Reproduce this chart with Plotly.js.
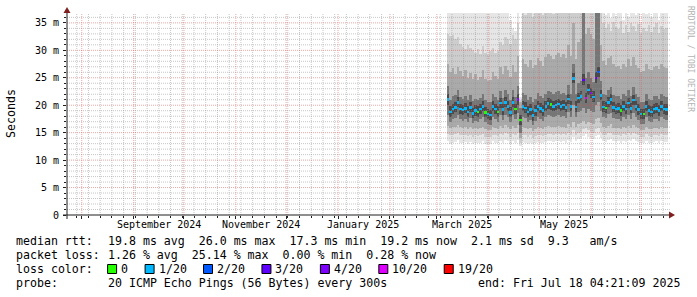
<!DOCTYPE html>
<html><head><meta charset="utf-8">
<script src="https://cdn.plot.ly/plotly-3.0.1.min.js"></script>
<style>html,body{margin:0;padding:0;background:#fff;}#chart{width:697px;height:297px;}</style>
</head><body><div id="chart"></div>
<script>
// ---------- data ----------
const rangeStart = '2024-07-23 04:21:09';
const rangeEnd = '2025-07-18 04:21:09';
const firstSample = '2025-03-07 12:00:00';
const sampleHours = 36;

const median = [
 21.0,18.8,19.3,19.6,20.5,19.3,19.1,19.4,18.8,19.6,
 18.5,19.0,18.8,19.3,19.8,18.7,18.4,18.2,19.8,19.3,
 18.8,20.4,19.2,20.5,19.8,18.7,20.5,19.3,21.0,17.3,
 19.8,19.5,18.8,19.2,18.1,19.0,19.8,19.4,19.0,19.8,
 20.3,20.1,19.8,20.0,20.2,19.8,20.0,19.6,21.1,19.8,
 24.9,19.7,21.3,21.6,24.6,21.3,22.8,22.2,21.5,25.0,
 26.0,21.8,19.7,19.5,20.5,21.0,19.6,19.3,19.4,19.0,
 19.8,19.3,20.4,19.4,20.9,19.8,19.2,18.4,18.4,19.8,
 19.0,18.8,19.3,19.4,19.0,19.8,19.3,19.2];

const lossTwentieths = [
 1,1,1,1,1,1,1,1,1,1,
 1,1,0,1,1,0,1,1,1,1,
 0,1,1,1,1,1,1,0,4,0,
 1,1,1,1,1,1,1,1,1,1,
 1,0,1,1,1,1,1,1,1,1,
 1,1,1,1,3,10,1,4,1,3,
 2,1,1,0,1,1,1,1,1,0,
 1,1,1,1,1,1,1,1,0,1,
 1,1,1,1,1,1,1,1];

const smokeMax = [
 37,37,37,37,37,37,37,37,37,37,
 37,37,37,37,37,37,37,37,37,37,
 37,37,37,37,37,35.5,34.0,33.5,37,21.5,
 37,37,37,37,37,37,37,37,37,37,
 37,37,37,37,37,37,37,37,37,37,
 37,35.0,37,37,37,37,37,37,37,37,
 37,37,37,36.5,37,35.8,37,36.2,37,37,
 35.5,37,36.0,37,37,36.4,37,35.2,37,36.6,
 37,36.0,37,37,35.6,37,36.8,37];

const smokeHi2 = [
 33.0,32.6,32.8,32.0,32.4,31.2,30.6,30.2,31.0,30.4,
 30.0,29.6,30.2,29.4,30.8,29.5,29.2,29.8,30.4,29.6,
 29.8,31.6,31.0,32.4,32.0,31.2,32.8,32.0,35.0,21.0,
 37,36.5,37,37,36.0,37,37,37,36.4,37,
 37,37,36.6,37,37,37,37,37,37,37,
 37,37,37,37,37,37,37,37,37,37,
 37,37,35.0,34.0,34.8,33.6,35.2,34.2,33.8,35.4,
 33.2,34.6,33.4,35.0,34.4,33.6,34.8,33.2,34.0,33.6,
 34.6,33.4,34.2,35.0,33.2,34.4,33.8,34.0];

const smokeHi1 = [
 27.5,26.0,26.8,25.6,27.0,26.2,25.4,26.4,25.0,25.8,
 24.8,25.6,24.6,25.2,26.4,24.8,24.4,24.6,26.0,25.4,
 24.8,27.0,25.6,27.2,26.4,25.2,27.4,26.0,29.0,20.5,
 28.5,27.6,27.0,28.2,26.8,27.4,28.6,28.0,27.2,28.8,
 29.4,29.0,28.4,29.2,29.6,28.8,29.4,28.6,31.0,29.0,
 35.0,28.4,31.5,32.0,37,33.0,34.0,33.0,32.0,37,
 37,31.0,28.0,27.4,28.6,29.0,27.6,27.0,27.2,26.6,
 27.6,27.0,28.4,27.2,28.8,27.4,26.8,26.0,26.2,27.6,
 26.6,26.4,27.0,27.2,26.6,27.6,27.0,26.8];

const coreHi = [
 23.5,21.0,21.6,21.8,22.8,21.5,21.2,21.6,21.0,21.8,
 20.8,21.2,21.0,21.4,22.0,20.9,20.6,20.5,22.0,21.5,
 21.0,22.6,21.4,22.8,22.0,20.9,22.8,21.5,23.5,19.5,
 22.2,21.8,21.0,21.5,20.5,21.2,22.2,21.6,21.3,22.1,
 22.6,22.4,22.0,22.4,22.6,22.1,22.3,21.9,23.6,22.1,
 27.5,22.0,24.0,24.5,37,25.0,26.0,25.0,24.2,37,
 37,24.5,22.0,21.8,22.8,23.4,21.9,21.6,21.7,21.2,
 22.1,21.6,22.8,21.7,23.3,22.1,21.5,20.6,20.6,22.1,
 21.2,21.0,21.6,21.7,21.2,22.1,21.6,21.5];

const coreLo = [
 18.2,17.0,17.4,17.6,18.2,17.4,17.2,17.5,17.0,17.6,
 16.8,17.2,17.0,17.4,17.8,16.9,16.6,16.4,17.8,17.4,
 17.0,18.2,17.3,18.3,17.8,16.9,18.2,17.4,18.5,15.0,
 17.8,17.6,17.0,17.3,16.4,17.2,17.8,17.5,17.2,17.8,
 18.2,18.0,17.8,18.0,18.2,17.8,18.0,17.7,18.8,17.8,
 20.0,17.8,18.8,19.0,19.5,18.6,19.4,19.0,18.8,20.0,
 20.5,19.0,17.8,17.6,18.4,18.6,17.7,17.4,17.5,17.2,
 17.8,17.4,18.3,17.5,18.6,17.8,17.3,16.6,16.6,17.8,
 17.2,17.0,17.4,17.5,17.2,17.8,17.4,17.3];

const smokeLo1 = [
 16.2,15.8,16.0,16.1,16.4,16.0,15.9,16.0,15.7,16.0,
 15.6,15.8,15.7,15.9,16.1,15.6,15.5,15.4,16.0,15.8,
 15.7,16.3,15.9,16.4,16.1,15.6,16.3,15.9,16.4,14.0,
 16.0,15.9,15.6,15.8,15.3,15.7,16.0,15.9,15.7,16.0,
 16.2,16.1,16.0,16.1,16.2,16.0,16.1,15.9,16.5,16.0,
 17.0,16.0,16.6,16.8,17.2,16.6,17.0,16.8,16.6,17.4,
 17.6,16.8,16.0,15.9,16.3,16.5,15.9,15.8,15.9,15.7,
 16.0,15.8,16.3,15.9,16.4,16.0,15.8,15.4,15.4,16.0,
 15.7,15.6,15.8,15.9,15.7,16.0,15.8,15.8];

const smokeLo2 = [
 14.8,14.5,14.6,14.7,14.9,14.6,14.5,14.6,14.4,14.6,
 14.3,14.5,14.4,14.5,14.7,14.3,14.2,14.2,14.6,14.5,
 14.4,14.8,14.5,14.9,14.7,14.3,14.8,14.5,14.9,13.2,
 14.6,14.5,14.3,14.5,14.1,14.4,14.6,14.5,14.4,14.6,
 14.8,14.7,14.6,14.7,14.8,14.6,14.7,14.5,15.0,14.6,
 15.4,14.6,15.0,15.2,15.6,15.8,15.4,15.2,15.0,15.6,
 15.8,15.2,14.6,14.5,14.9,15.0,14.6,14.5,14.6,14.4,
 14.7,14.5,14.9,14.6,15.0,14.7,14.5,14.2,14.2,14.7,
 14.4,14.3,14.5,14.6,14.4,14.7,14.5,14.5];

const smokeMin = [
 13.4,13.0,13.2,13.3,13.6,13.2,13.1,13.3,13.0,13.3,
 13.0,13.2,13.1,13.2,13.4,13.0,12.9,13.0,13.4,13.2,
 13.1,13.5,13.2,13.6,13.4,13.0,13.5,13.2,13.6,12.6,
 13.3,13.2,13.0,13.2,12.9,13.1,13.3,13.2,13.1,13.3,
 13.5,13.4,13.3,13.4,13.5,13.3,13.4,13.2,13.6,13.3,
 14.2,13.4,13.8,14.0,14.4,14.8,14.2,14.0,13.8,14.4,
 14.6,14.0,13.4,13.3,13.6,13.8,13.4,13.3,13.4,13.2,
 13.5,13.3,13.6,13.4,13.8,13.5,13.3,13.1,13.1,13.5,
 13.2,13.1,13.3,13.4,13.2,13.5,13.3,13.3];

const monthLabelDates = ['2024-09-16','2024-11-16','2025-01-16','2025-03-16','2025-05-16'];
const monthLabels = ['September 2024','November 2024','January 2025','March 2025','May 2025'];
const yTickVals = [0,5,10,15,20,25,30,35];
const yTickText = ['0','5 m','10 m','15 m','20 m','25 m','30 m','35 m'];
const lossSteps = [0,1,2,3,4,10,19];
const lossLabels = ['0','1/20','2/20','3/20','4/20','10/20','19/20'];
const lossColors = ['#26ff00','#00b8ff','#0059ff','#5e00ff','#7e00ff','#dd00ff','#ff0000'];
const rttStats = ['19.8','26.0','17.3','19.2','2.1','9.3'];
const lossStats = ['1.26','25.14','0.00','0.28'];
const probeText = '20 ICMP Echo Pings (56 Bytes) every 300s';
const endText = 'end: Fri Jul 18 04:21:09 2025';

// ---------- layout constants (pixels) ----------
const W = 697, H = 297, PL = 67, PR = 670, PT = 13, PB = 215;
const FONT = 'DejaVu Sans Mono, monospace';
const LEG = 11.6, CW = LEG * 0.602;
const px = v => (v - PL) / (PR - PL);
const py = v => (PB - v) / (PB - PT);
const nb = s => s.replace(/ /g, '\u00a0');
const fmt = d => d.toISOString().slice(0, 19).replace('T', ' ');
const toDate = s => new Date(s.replace(' ', 'T') + 'Z');

const stepMs = sampleHours * 3600 * 1000;
const t0 = toDate(firstSample).getTime();
const times = median.map((_, i) => fmt(new Date(t0 + i * stepMs)));

// ---------- traces ----------
const bands = [
  {lo: smokeMin, hi: smokeMax, color: '#e6e6e6'},
  {lo: smokeLo2, hi: smokeHi2, color: '#cdcdcd'},
  {lo: smokeLo1, hi: smokeHi1, color: '#aaaaaa'},
  {lo: coreLo, hi: coreHi, color: '#767676'}
];
const traces = bands.map(b => ({
  type: 'bar', x: times, base: b.lo, y: b.hi.map((h, i) => h - b.lo[i]),
  width: stepMs, marker: {color: b.color, line: {width: 0}}, hoverinfo: 'skip'
}));
// dense smoke right around the median
traces.push({
  type: 'bar', x: times, base: median.map(v => v - 0.9), y: median.map(() => 1.9),
  width: stepMs, marker: {color: '#4a4a4a', line: {width: 0}}, hoverinfo: 'skip'
});
traces.push({
  type: 'bar', x: times, base: median.map(v => v - 0.22), y: median.map(() => 0.45),
  width: stepMs * 0.98,
  marker: {color: lossTwentieths.map(l => lossColors[lossSteps.indexOf(l)]), line: {width: 0}},
  hoverinfo: 'skip'
});

// ---------- grid (drawn above data, like rrdtool) ----------
const minorCol = 'rgba(143,143,143,0.5)', majorCol = 'rgba(222,79,79,0.5)';
const shapes = [];
for (let v = 1; v <= 36; v++) if (v % 5) shapes.push({type:'line', xref:'paper', yref:'y', x0:0, x1:1, y0:v, y1:v, layer:'above', line:{color:minorCol, width:1, dash:'1px,1px'}});
const endMs = toDate(rangeEnd).getTime();
for (let t = toDate('2024-07-29 00:00:00').getTime(); t < endMs; t += 7 * 86400000)
  shapes.push({type:'line', xref:'x', yref:'paper', x0:fmt(new Date(t)), x1:fmt(new Date(t)), y0:0, y1:1, layer:'above', line:{color:minorCol, width:1, dash:'1px,1px'}});
for (let v = 5; v <= 35; v += 5) shapes.push({type:'line', xref:'paper', yref:'y', x0:0, x1:1, y0:v, y1:v, layer:'above', line:{color:majorCol, width:1, dash:'1px,1px'}});
for (let m = 0; m < 12; m++) {
  const d = new Date(Date.UTC(2024, 7 + m, 1));
  shapes.push({type:'line', xref:'x', yref:'paper', x0:fmt(d), x1:fmt(d), y0:0, y1:1, layer:'above', line:{color:majorCol, width:1, dash:'1px,1px'}});
}
// axis lines and arrows
shapes.push({type:'line', xref:'paper', yref:'paper', x0:px(63), x1:px(670), y0:0, y1:0, layer:'above', line:{color:'#1f1f1f', width:1}});
shapes.push({type:'line', xref:'paper', yref:'paper', x0:0, x1:0, y0:py(219), y1:py(12), layer:'above', line:{color:'#1f1f1f', width:1}});
shapes.push({type:'path', xref:'paper', yref:'paper', layer:'above', fillcolor:'#801f1f', line:{width:0},
  path:`M ${px(669)} ${py(211.5)} L ${px(675)} ${py(215)} L ${px(669)} ${py(218.5)} Z`});
shapes.push({type:'path', xref:'paper', yref:'paper', layer:'above', fillcolor:'#801f1f', line:{width:0},
  path:`M ${px(63.5)} ${py(13)} L ${px(67)} ${py(7)} L ${px(70.5)} ${py(13)} Z`});

// ---------- annotations ----------
const ann = [];
const txt = (x, y, text, opts = {}) => ann.push(Object.assign({
  xref:'paper', yref:'paper', x:px(x), y:py(y), text:nb(text), showarrow:false,
  xanchor:'left', yanchor:'middle', borderpad:0, borderwidth:0,
  font:{family:FONT, size:LEG, color:'#000'}
}, opts));
monthLabelDates.forEach((d, i) => ann.push({xref:'x', yref:'paper', x:d, y:py(224.5), text:monthLabels[i],
  showarrow:false, xanchor:'center', yanchor:'middle', font:{family:FONT, size:10, color:'#000'}}));
txt(11, 114, 'Seconds', {xanchor:'center', textangle:-90});
txt(690, 59, 'RRDTOOL / TOBI OETIKER', {xanchor:'center', textangle:90, font:{family:FONT, size:8, color:'#b3b3b3'}});

const colX = 107.6;
const rows = [241, 255, 269, 283];
txt(16, rows[0], 'median rtt:');
txt(colX, rows[0], `${rttStats[0]} ms avg  ${rttStats[1]} ms max  ${rttStats[2]} ms min  ${rttStats[3]} ms now  ${rttStats[4]} ms sd  ${rttStats[5]}   am/s`);
txt(16, rows[1], 'packet loss:');
txt(colX, rows[1], `${lossStats[0]} % avg  ${lossStats[1]} % max  ${lossStats[2]} % min  ${lossStats[3]} % now`);
txt(16, rows[2], 'loss color:');
let bx = colX;
lossLabels.forEach((lab, i) => {
  shapes.push({type:'rect', xref:'paper', yref:'paper', x0:px(bx), x1:px(bx + 9), y0:py(rows[2] + 4.5), y1:py(rows[2] - 4.5),
    fillcolor:lossColors[i], line:{color:'#000', width:1}, layer:'above'});
  txt(bx + 13.5, rows[2], lab);
  bx += 13.5 + lab.length * CW + 17;
});
txt(16, rows[3], 'probe:');
txt(colX, rows[3], probeText);
txt(680, rows[3], endText, {xanchor:'right'});

const axisFont = {family:FONT, size:10, color:'#000'};
const layout = {
  width: W, height: H, margin: {l:PL, r:W - PR, t:PT, b:H - PB, pad:0},
  paper_bgcolor:'#fff', plot_bgcolor:'#fff', showlegend:false,
  barmode:'overlay', bargap:0,
  xaxis: {type:'date', range:[rangeStart, rangeEnd], showgrid:false, zeroline:false, showline:false,
    showticklabels:false, ticks:'outside', ticklen:3, tickcolor:'#1f1f1f', tick0:'2024-08-01', dtick:'M1',
    minor:{dtick:7 * 86400000, tick0:'2024-07-29', ticks:'outside', ticklen:2, tickcolor:'#1f1f1f', showgrid:false}},
  yaxis: {range:[0, 36.8], showgrid:false, zeroline:false, showline:false, tickmode:'array',
    tickvals:yTickVals, ticktext:yTickText, ticks:'outside', ticklen:3, tickcolor:'#1f1f1f', tickfont:axisFont,
    ticklabelstandoff:2, minor:{dtick:1, tick0:0, ticks:'outside', ticklen:2, tickcolor:'#1f1f1f', showgrid:false}},
  shapes: shapes, annotations: ann
};
Plotly.newPlot('chart', traces, layout, {staticPlot:true, displayModeBar:false});
</script></body></html>
